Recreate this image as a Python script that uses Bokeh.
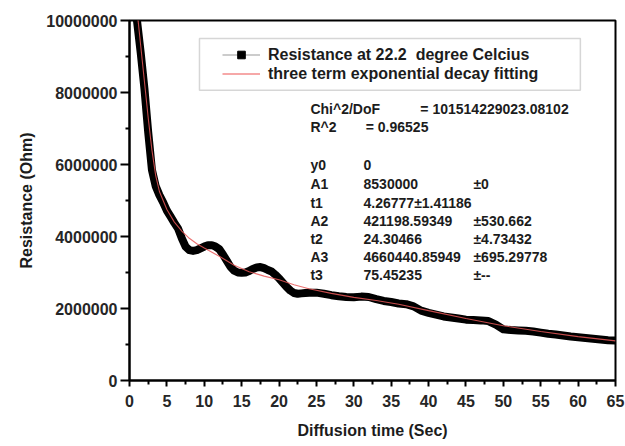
from bokeh.plotting import figure
from bokeh.models import (ColumnDataSource, Range1d, FixedTicker, NumeralTickFormatter,
                          Legend, LegendItem, Label, BoxAnnotation)
from bokeh.embed import file_html
from bokeh.resources import INLINE

# Measured resistance (Ohm) versus diffusion time (s)
time_s = [0.8, 1.0, 1.5, 2.0, 2.5, 3.0, 3.5, 4.0, 4.5, 5.0, 5.5, 6.0, 6.5, 7.0, 7.5,
          8.0, 8.5, 9.0, 9.5, 10.0, 10.5, 11.0, 11.5, 12.0, 12.5, 13.0, 13.5, 14.0,
          14.5, 15.0, 15.5, 16.0, 16.5, 17.0, 17.5, 18.0, 18.5, 19.0, 19.5, 20.0,
          20.5, 21.0, 21.5, 22.0, 22.5, 23.0, 23.5, 24.0, 25.0, 26.0, 27.0, 28.0,
          29.0, 30.0, 31.0, 32.0, 33.0, 34.0, 35.0, 36.0, 37.0, 38.0, 39.0, 40.0,
          41.0, 42.0, 43.0, 44.0, 45.0, 46.0, 47.0, 48.0, 49.0, 50.0, 51.0, 52.0,
          53.0, 54.0, 55.0, 56.0, 57.0, 58.0, 59.0, 60.0, 61.0, 62.0, 63.0, 64.0, 65.0]
resistance = [10600000, 10000000, 9100000, 8100000, 6900000, 5850000, 5400000, 5150000,
              4950000, 4720000, 4550000, 4380000, 4220000, 3950000, 3720000, 3620000,
              3600000, 3620000, 3670000, 3720000, 3760000, 3760000, 3720000, 3650000,
              3500000, 3330000, 3160000, 3050000, 3000000, 2990000, 3000000, 3040000,
              3100000, 3140000, 3150000, 3120000, 3070000, 3030000, 2940000, 2840000,
              2720000, 2600000, 2500000, 2430000, 2410000, 2420000, 2430000, 2440000,
              2440000, 2410000, 2370000, 2340000, 2320000, 2310000, 2330000, 2320000,
              2260000, 2210000, 2180000, 2140000, 2120000, 2060000, 1940000, 1880000,
              1830000, 1780000, 1750000, 1720000, 1690000, 1680000, 1670000, 1650000,
              1550000, 1420000, 1400000, 1390000, 1380000, 1360000, 1330000, 1300000,
              1280000, 1250000, 1220000, 1200000, 1180000, 1160000, 1140000, 1120000, 1110000]

# Three term exponential decay fit curve
fit_time = [0.9, 1.5, 2.0, 2.5, 3.0, 3.5, 4.0, 5.0, 6.0, 7.0, 8.0, 9.0, 10.0, 12.0, 14.0,
            16.0, 18.0, 20.0, 22.0, 24.0, 27.0, 30.0, 33.0, 36.0, 40.0, 45.0, 50.0,
            55.0, 60.0, 65.0]
fit_resistance = [10500000, 9300000, 8300000, 7300000, 6400000, 5700000, 5250000, 4750000,
                  4400000, 4150000, 3950000, 3800000, 3680000, 3450000, 3200000, 3020000,
                  2900000, 2800000, 2660000, 2550000, 2420000, 2310000, 2220000, 2120000,
                  1940000, 1720000, 1520000, 1360000, 1220000, 1100000]

# Fit report
report_header = [("Chi^2/DoF", "= 101514229023.08102"), ("R^2", "=  0.96525")]
param_names = ["y0", "A1", "t1", "A2", "t2", "A3", "t3"]
param_values = ["0", "8530000", "4.26777\u00b11.41186", "421198.59349", "24.30466",
                "4660440.85949", "75.45235"]
param_errors = ["", "\u00b10", "", "\u00b1530.662", "\u00b14.73432", "\u00b1695.29778", "\u00b1--"]

x_ticks = list(range(0, 66, 5))
x_minor = [t + 2.5 for t in range(0, 65, 5)]
y_ticks = [0, 2000000, 4000000, 6000000, 8000000, 10000000]
y_minor = [1000000, 3000000, 5000000, 7000000, 9000000]

FONT = "Liberation Sans"
INK = "#1c1c1c"

p = figure(width=625, height=446, output_backend="svg", toolbar_location=None,
           x_range=Range1d(0, 65), y_range=Range1d(0, 10000000),
           min_border_left=129, min_border_right=10, min_border_top=20,
           min_border_bottom=66)
p.background_fill_color = "white"
p.border_fill_color = "white"
p.grid.visible = False
p.outline_line_color = "black"
p.outline_line_width = 2

for ax in (p.xaxis[0], p.yaxis[0]):
    ax.axis_line_width = 2
    ax.major_tick_line_width = 2
    ax.minor_tick_line_width = 2
    ax.major_tick_in = 0
    ax.minor_tick_in = 0
    ax.major_label_text_font = FONT
    ax.major_label_text_font_style = "bold"
    ax.major_label_text_font_size = "16px"
    ax.major_label_text_color = "#262626"
    ax.axis_label_text_font = FONT
    ax.axis_label_text_font_style = "bold"
    ax.axis_label_text_font_size = "16px"
    ax.axis_label_text_color = INK

p.xaxis.ticker = FixedTicker(ticks=x_ticks, minor_ticks=x_minor)
p.xaxis.major_tick_out = 6
p.xaxis.minor_tick_out = 4
p.xaxis.major_label_standoff = 8
p.xaxis.axis_label = "Diffusion time (Sec)"
p.xaxis.axis_label_standoff = 12

p.yaxis.ticker = FixedTicker(ticks=y_ticks, minor_ticks=y_minor)
p.yaxis.formatter = NumeralTickFormatter(format="0")
p.yaxis.major_tick_out = 9
p.yaxis.minor_tick_out = 4
p.yaxis.major_label_standoff = 3
p.yaxis.axis_label = "Resistance (Ohm)"
p.yaxis.axis_label_standoff = 8

data_src = ColumnDataSource(dict(t=time_s, r=resistance))
fit_src = ColumnDataSource(dict(t=fit_time, r=fit_resistance))

p.line("t", "r", source=data_src, line_color="black", line_width=8,
       line_join="round", line_cap="round")
p.line("t", "r", source=fit_src, line_color="#e85858", line_width=1.1, line_alpha=0.85)

# Legend keys: gray line with a black square, and a pink line (kept off the visible range)
offscreen = ColumnDataSource(dict(t=[-100.0], r=[-1.0e9]))
key_line = p.line("t", "r", source=offscreen, line_color="#cccccc", line_width=2)
key_sq = p.scatter("t", "r", source=offscreen, marker="square", size=8,
                   fill_color="black", line_color="black")
key_fit = p.line("t", "r", source=offscreen, line_color="#f6a8a8", line_width=2)

p.add_layout(BoxAnnotation(left=9.36, right=60.3, bottom=8060000, top=9500000,
                           fill_alpha=0, line_color="#777777", line_width=1.5))

legend = Legend(items=[
    LegendItem(label="Resistance at 22.2  degree Celcius", renderers=[key_line, key_sq]),
    LegendItem(label="three term exponential decay fitting", renderers=[key_fit]),
], location=(88, 292))
legend.border_line_alpha = 0
legend.background_fill_alpha = 0
legend.padding = 5
legend.spacing = 0
legend.margin = 0
legend.glyph_width = 38
legend.glyph_height = 19
legend.label_height = 19
legend.label_standoff = 8
legend.label_text_font = FONT
legend.label_text_font_style = "bold"
legend.label_text_font_size = "16px"
legend.label_text_color = INK
p.add_layout(legend)

# Fit report text block
def put(x, y, txt):
    p.add_layout(Label(x=x, y=y, text=txt, text_font=FONT, text_font_style="bold",
                       text_font_size="14px", text_color=INK, text_baseline="middle"))

name_x, value_x, err_x = 24.2, 31.3, 46.0
put(name_x, 7530000, report_header[0][0])
put(38.9, 7530000, report_header[0][1])
put(name_x, 7030000, report_header[1][0])
put(31.6, 7030000, report_header[1][1])

row_y = [6000000, 5470000, 4940000, 4440000, 3940000, 3420000, 2920000]
for name, val, err, y in zip(param_names, param_values, param_errors, row_y):
    put(name_x, y, name)
    put(value_x, y, val)
    if err:
        put(err_x, y, err)

open("out.html", "w").write(file_html(p, INLINE))
